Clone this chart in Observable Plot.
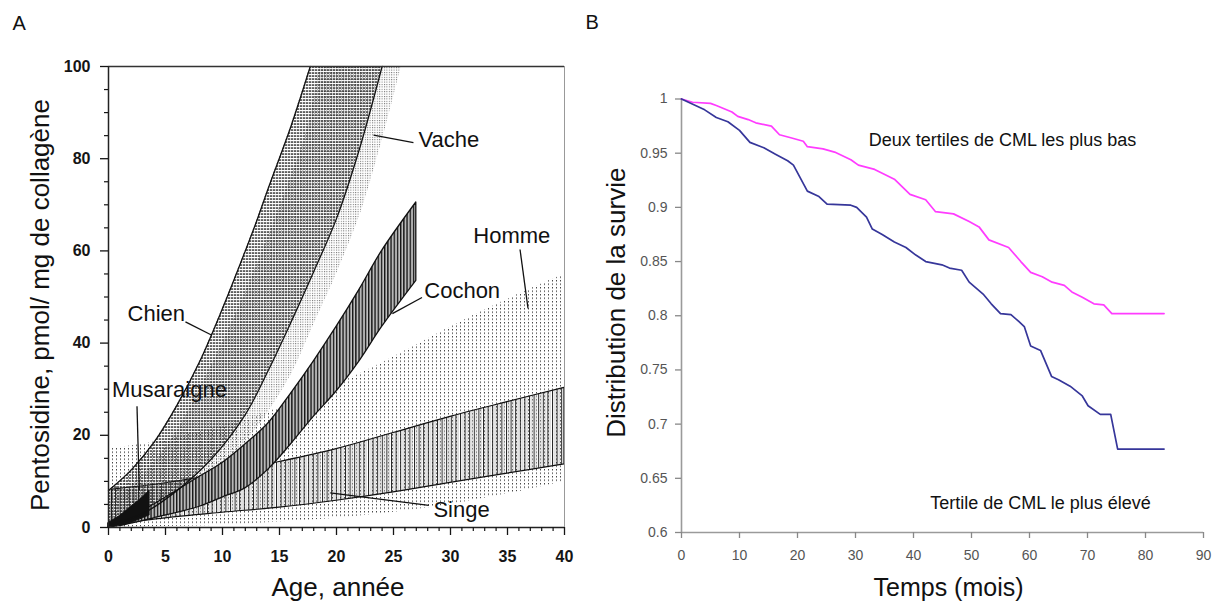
<!DOCTYPE html>
<html>
<head>
<meta charset="utf-8">
<script src="https://cdn.jsdelivr.net/npm/d3@7"></script>
<script src="https://cdn.jsdelivr.net/npm/@observablehq/plot@0.6"></script>
<style>
  html, body { margin: 0; padding: 0; background: #fff; }
  #wrap { position: relative; width: 1215px; height: 602px; overflow: hidden; }
  #wrap svg { position: absolute; top: 0; }
</style>
</head>
<body>
<div id="wrap"></div>
<script>
// ---------- Panel A data (age in years, pentosidine pmol/mg collagen) ----------
const xTicksA = [0, 5, 10, 15, 20, 25, 30, 35, 40];
const xMinorA = [1,2,3,4,6,7,8,9,11,12,13,14,16,17,18,19,21,22,23,24,26,27,28,29,31,32,33,34,36,37,38,39];
const yTicksA = [0, 20, 40, 60, 80, 100];
const yMinorA = [5,10,15,25,30,35,45,50,55,65,70,75,85,90,95];

const hommeHaut = [[0,17],[5,19],[10,22],[15,26],[20,31],[25,37],[30,43.5],[35,49.5],[40,55]];
const hommeBas  = [[0,0],[5,0.2],[10,0.5],[15,1.2],[20,2],[25,3.3],[30,5],[35,7.3],[40,10]];

const singeHaut = [[0.3,8.2],[5,9.6],[10,11.7],[15,14.2],[20,17],[25,20.5],[30,24],[35,27.2],[40,30.3]];
const singeBas  = [[0.3,0.5],[5,2],[10,3.2],[15,4.3],[20,5.8],[25,7.6],[30,9.7],[35,11.7],[40,13.7]];

const vacheHaut = [[0,5],[2,9],[4,14],[6,21],[8,30],[10,40],[12,51],[14,63],[16,76],[17.5,87],[18.5,100]];
const vacheBas  = [[0,0],[3,1.5],[6,5],[9,10.5],[12,18.5],[14,25],[16,33],[18,44],[20,55],[22.5,71],[25.7,100]];

const chienHaut = [[0,8],[2,12.5],[4,18.5],[6,26.5],[8,36],[10,47.5],[12,60],[13,66.5],[14,73.5],[16,87],[17.7,100]];
const chienBas  = [[0,0.5],[3,3],[6,8],[9,14.8],[12,24.5],[14,34],[16,44.5],[18,55.5],[20,67],[22,82],[24,100]];

const cochonHaut = [[1,1],[4,5],[8,11],[10,14],[12,18],[14,22.5],[16,29],[18,36],[20,43.5],[22,51.5],[24,60],[27,70.5]];
const cochonBas  = [[1,0.3],[4,2],[8,4.5],[10,6.5],[12,8.5],[14,12.5],[16,18],[18,24],[20,29.5],[22,36],[24,43.5],[27,53.5]];

const musaraigneHaut = [[0,1],[1,2.5],[2,4.5],[3,6.5],[3.6,8]];
const musaraigneBas  = [[0,0],[1,0.3],[2,1],[3,2],[3.6,2.6]];

const especes = ["Chien", "Vache", "Cochon", "Homme", "Singe", "Musaraigne"];
const labelPosA = [[1.67,46.4],[27.2,84],[27.7,51.3],[32,63.2],[28.5,3.75],[0.3,29.8]];
const pointeursA = [
  [[6.75,44.6],[9.07,41.7]],
  [[26.75,83.5],[23.25,85.1]],
  [[27.5,49.9],[24.9,46.4]],
  [[36.1,60.3],[36.8,47.5]],
  [[28.1,4.8],[19.45,7.5]],
  [[2.5,26.3],[2.7,8.1]]
];

// ---------- Panel B data (months, survival distribution) ----------
const xTicksB = [0, 10, 20, 30, 40, 50, 60, 70, 80, 90];
const yTicksB = [0.6, 0.65, 0.7, 0.75, 0.8, 0.85, 0.9, 0.95, 1];

const survieBas = [
  [0,1.0],[1.9,0.997],[5,0.996],[6,0.994],[8.7,0.988],[9.7,0.984],[11.5,0.981],[12.8,0.978],
  [15.5,0.975],[16.9,0.967],[19,0.964],[21,0.961],[21.7,0.956],[24.4,0.954],[26.4,0.951],
  [29.2,0.944],[30.5,0.939],[33.3,0.935],[36.7,0.926],[39.4,0.912],[42.1,0.907],[43.8,0.896],
  [46.9,0.894],[49.6,0.887],[51.3,0.882],[53,0.870],[56.4,0.863],[58.5,0.850],[60.2,0.840],
  [62.2,0.836],[63.9,0.831],[66,0.828],[67.3,0.822],[69.1,0.817],[71.1,0.811],[72.8,0.810],
  [74.2,0.802],[83.2,0.802]
];
const survieHaut = [
  [0,1.0],[4,0.990],[6,0.983],[8,0.979],[10,0.971],[11.8,0.960],[14.2,0.955],[16.2,0.949],
  [18.3,0.943],[19.3,0.939],[21.7,0.915],[23.7,0.910],[25.1,0.903],[29.2,0.902],[30.2,0.900],
  [31.9,0.891],[32.9,0.880],[34.6,0.875],[36.7,0.868],[38.7,0.863],[40.4,0.856],[42.1,0.850],
  [44.9,0.847],[46.2,0.844],[48.3,0.842],[49.6,0.831],[52,0.820],[53.4,0.811],[55,0.802],
  [56.8,0.801],[58.1,0.795],[59.1,0.790],[60.2,0.772],[61.9,0.768],[63.8,0.744],[65,0.741],
  [67,0.735],[69.1,0.726],[70.1,0.717],[72.2,0.709],[74,0.709],[75.2,0.677],[83.2,0.677]
];
const groupesB = ["Deux tertiles de CML les plus bas", "Tertile de CML le plus élevé"];
const labelPosB = [[32.3,0.9617],[42.9,0.6268]];

// ---------- helpers ----------
const FONT = "'Liberation Sans', Arial, Helvetica, sans-serif";
const band = (bas, haut) => bas.map((b, i) => ({x1: b[0], y1: b[1], x2: haut[i][0], y2: haut[i][1]}));
const px = d => d[0], py = d => d[1];
const bandMark = (bas, haut, opts) => Plot.area(band(bas, haut), {x1: "x1", y1: "y1", x2: "x2", y2: "y2", curve: "catmull-rom", ...opts});

// ---------- Panel A ----------
const plotA = Plot.plot({
  width: 600, height: 602,
  marginLeft: 108, marginRight: 36, marginTop: 66, marginBottom: 75,
  x: {domain: [0, 40]},
  y: {domain: [0, 100]},
  style: {fontFamily: FONT, fontSize: "16px", fontWeight: "bold", color: "#151515", background: "transparent", overflow: "visible"},
  marks: [
    bandMark(hommeBas, hommeHaut, {fill: "url(#p-homme)"}),
    bandMark(singeBas, singeHaut, {fill: "url(#p-singe)", stroke: "#111", strokeWidth: 1.2}),
    bandMark(vacheBas, vacheHaut, {fill: "url(#p-vache)"}),
    bandMark(chienBas, chienHaut, {fill: "url(#p-chien)"}),
    bandMark(cochonBas, cochonHaut, {fill: "url(#p-cochon)", stroke: "#111", strokeWidth: 1.3}),
    bandMark(musaraigneBas, musaraigneHaut, {fill: "#111", stroke: "#111", strokeWidth: 1}),
    Plot.line(chienHaut, {x: px, y: py, curve: "catmull-rom", stroke: "#111", strokeWidth: 1.3}),
    Plot.line(chienBas, {x: px, y: py, curve: "catmull-rom", stroke: "#111", strokeWidth: 1.3}),
    Plot.link(pointeursA, {x1: d => d[0][0], y1: d => d[0][1], x2: d => d[1][0], y2: d => d[1][1], stroke: "#111", strokeWidth: 1.3}),
    Plot.text(especes, {x: (d, i) => labelPosA[i][0], y: (d, i) => labelPosA[i][1], text: d => d, textAnchor: "start", fontSize: 22, fontWeight: "normal", fill: "#111"}),
    Plot.ruleX([40], {stroke: "#999", strokeWidth: 1}),
    Plot.ruleY([100], {stroke: "#333", strokeWidth: 1.5}),
    Plot.ruleY([0], {stroke: "#222", strokeWidth: 1.5}),
    Plot.ruleX([0], {stroke: "#222", strokeWidth: 1.5}),
    Plot.axisX({ticks: xTicksA, tickSize: 8, tickPadding: 15, label: null, strokeWidth: 1.3}),
    Plot.axisX({ticks: xMinorA, tickSize: 4, tickFormat: () => "", label: null, strokeWidth: 1.2}),
    Plot.axisY({ticks: yTicksA, tickSize: 8, tickPadding: 10, label: null, strokeWidth: 1.3}),
    Plot.axisY({ticks: yMinorA, tickSize: 4, tickFormat: () => "", label: null, strokeWidth: 1.2}),
    Plot.text(["Age, année"], {frameAnchor: "bottom", textAnchor: "middle", lineAnchor: "middle", dx: 1.5, dy: 60, fontSize: 26, fontWeight: "normal", fill: "#111"}),
    Plot.text(["Pentosidine, pmol/ mg de collagène"], {frameAnchor: "left", textAnchor: "middle", lineAnchor: "middle", rotate: -90, dx: -68, dy: 8, fontSize: 26, fontWeight: "normal", fill: "#111"}),
    Plot.text(["A"], {frameAnchor: "top-left", textAnchor: "start", lineAnchor: "top", dx: -96, dy: -51, fontSize: 20, fontWeight: "normal", fill: "#111"})
  ]
});

const patterns = `
<defs>
  <pattern id="p-homme" patternUnits="userSpaceOnUse" width="4" height="3.5">
    <rect x="0" y="0" width="1" height="1.4" fill="#444"/>
  </pattern>
  <pattern id="p-singe" patternUnits="userSpaceOnUse" width="4.6" height="10">
    <rect x="0" y="0" width="1" height="10" fill="#222"/>
    <rect x="2.4" y="0" width="0.8" height="10" fill="#b8b8b8"/>
  </pattern>
  <pattern id="p-vache" patternUnits="userSpaceOnUse" width="2.4" height="2.4">
    <rect x="0" y="0" width="1" height="1" fill="#666"/>
  </pattern>
  <pattern id="p-chien" patternUnits="userSpaceOnUse" width="3" height="3">
    <rect x="0" y="0.4" width="2.3" height="1.3" fill="#1a1a1a"/>
  </pattern>
  <pattern id="p-cochon" patternUnits="userSpaceOnUse" width="3.2" height="10">
    <rect x="0" y="0" width="3.2" height="10" fill="#fff"/>
    <rect x="0" y="0" width="1.4" height="10" fill="#111"/>
    <rect x="1.9" y="0" width="0.9" height="10" fill="#8a8a8a"/>
  </pattern>
</defs>`;
d3.select(plotA).insert("g", ":first-child").html(patterns);
plotA.style.left = "0px";

// ---------- Panel B ----------
const plotB = Plot.plot({
  width: 615, height: 602,
  marginLeft: 81, marginRight: 12, marginTop: 98.5, marginBottom: 70,
  x: {domain: [0, 90]},
  y: {domain: [0.6, 1]},
  style: {fontFamily: FONT, fontSize: "14px", color: "#555", background: "transparent", overflow: "visible"},
  marks: [
    Plot.ruleY([0.6], {stroke: "#9a9a9a", strokeWidth: 1.6}),
    Plot.ruleX([0], {stroke: "#9a9a9a", strokeWidth: 1.6}),
    Plot.axisX({ticks: xTicksB, tickSize: 6, tickPadding: 12, label: null, stroke: "#888", strokeWidth: 1.3}),
    Plot.axisY({ticks: yTicksB, tickSize: 6, tickPadding: 8, label: null, tickFormat: d => String(d), stroke: "#888", strokeWidth: 1.3}),
    Plot.line(survieBas, {x: px, y: py, stroke: "#ff3cff", strokeWidth: 1.7}),
    Plot.line(survieHaut, {x: px, y: py, stroke: "#36369a", strokeWidth: 1.7}),
    Plot.text(groupesB, {x: (d, i) => labelPosB[i][0], y: (d, i) => labelPosB[i][1], text: d => d, textAnchor: "start", fontSize: 18, fill: "#111"}),
    Plot.text(["Temps (mois)"], {frameAnchor: "bottom", textAnchor: "middle", lineAnchor: "middle", dx: 6, dy: 55, fontSize: 25, fill: "#111"}),
    Plot.text(["Distribution de la survie"], {frameAnchor: "left", textAnchor: "middle", lineAnchor: "middle", rotate: -90, dx: -65, dy: -13, fontSize: 26, fill: "#111"}),
    Plot.text(["B"], {frameAnchor: "top-left", textAnchor: "start", lineAnchor: "top", dx: -96, dy: -84.5, fontSize: 20, fill: "#111"})
  ]
});
plotB.style.left = "600px";

document.getElementById("wrap").append(plotA, plotB);
</script>
</body>
</html>
